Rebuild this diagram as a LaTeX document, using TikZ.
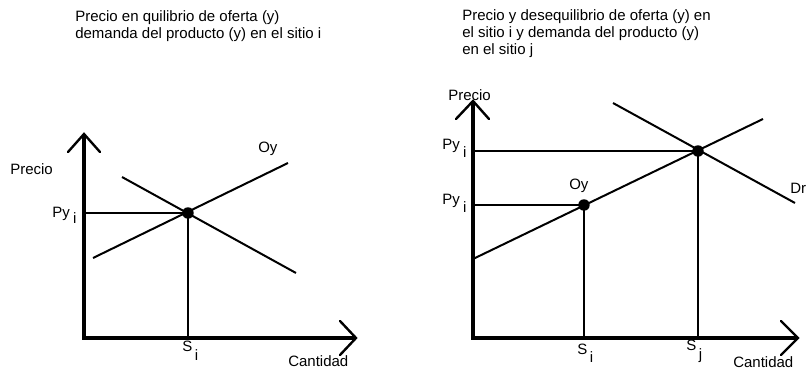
\documentclass[tikz,border=0pt]{standalone}
\usepackage{fontspec}
\setmainfont{Liberation Sans}
\begin{document}
\begin{tikzpicture}[x=0.75pt,y=-0.75pt,
  lbl/.style={font=\fontsize{11.25}{13.5}\selectfont,inner sep=0pt,anchor=base west},
  axisline/.style={line width=3.2pt},
  tipline/.style={line width=1.8pt,line cap=round},
  curve/.style={line width=1.5pt},
  guide/.style={line width=1.5pt},
  dot/.style={circle,fill=black,inner sep=0pt,minimum size=8.6pt}]
\useasboundingbox (0,0) rectangle (807,370);
% ---------- titles
\node[lbl] (t1a) at (75,22) {Precio en quilibrio de oferta (y)};
\node[lbl] (t1b) at (75,39) {demanda del producto (y) en el sitio i};
\node[lbl] (t2a) at (462,21) {Precio y desequilibrio de oferta (y) en};
\node[lbl] (t2b) at (462,38) {el sitio i y demanda del producto (y)};
\node[lbl] (t2c) at (462,55) {en el sitio j};
% ---------- left chart
\coordinate (LO) at (84,338);
\coordinate (LY) at (84,134);
\coordinate (LX) at (356,338);
\coordinate (LYa) at (68,152);
\coordinate (LYb) at (100,152);
\coordinate (LXa) at (340,321);
\coordinate (LXb) at (340,355);
\draw[axisline] (LY) -- (LO) -- (LX);
\draw[tipline] (LYa) -- (LY) -- (LYb);
\draw[tipline] (LXa) -- (LX) -- (LXb);
\coordinate (LS1) at (93,258);
\coordinate (LS2) at (288,163);
\coordinate (LD1) at (122,177);
\coordinate (LD2) at (296,273);
\draw[curve] (LS1) -- (LS2);
\draw[curve] (LD1) -- (LD2);
\node[dot] (LE) at (188,213) {};
\draw[guide] (LE.center) -- (LE.center -| LO);
\draw[guide] (LE.center) -- (LE.center |- LO);
\node[lbl] (Lprecio) at (10,175) {Precio};
\node[lbl] (Loy) at (258,153) {Oy};
\node[lbl] (Lpy) at (52,218) {Py\hspace{2.5pt}\raisebox{-3.9pt}{i}};
\node[lbl] (Lsi) at (182,352) {S\hspace{2pt}\raisebox{-6pt}{i}};
\node[lbl] (Lcant) at (288,367) {Cantidad};
% ---------- right chart
\coordinate (RO) at (473,338);
\coordinate (RY) at (473,101);
\coordinate (RX) at (798,338);
\coordinate (RYa) at (456,119);
\coordinate (RYb) at (489,119);
\coordinate (RXa) at (781,321);
\coordinate (RXb) at (781,355);
\draw[axisline] (RY) -- (RO) -- (RX);
\draw[tipline] (RYa) -- (RY) -- (RYb);
\draw[tipline] (RXa) -- (RX) -- (RXb);
\coordinate (RS1) at (473,259);
\coordinate (RS2) at (763,119);
\coordinate (RD1) at (613,103);
\coordinate (RD2) at (795,203);
\draw[curve] (RS1) -- (RS2);
\draw[curve] (RD1) -- (RD2);
\node[dot] (RE) at (698,151) {};
\node[dot] (RF) at (584,205) {};
\draw[guide] (RE.center) -- (RE.center -| RO);
\draw[guide] (RE.center) -- (RE.center |- RO);
\draw[guide] (RF.center) -- (RF.center -| RO);
\draw[guide] (RF.center) -- (RF.center |- RO);
\node[lbl] (Rprecio) at (448,101) {Precio};
\node[lbl] (Rpy1) at (442,150) {Py\hspace{2.5pt}\raisebox{-5.5pt}{i}};
\node[lbl] (Rpy2) at (442,205) {Py\hspace{2.5pt}\raisebox{-5.5pt}{i}};
\node[lbl] (Roy) at (569,190) {Oy};
\node[lbl] (Rdr) at (790,194) {Dr};
\node[lbl] (Rsi) at (577,354) {S\hspace{2pt}\raisebox{-6pt}{i}};
\node[lbl] (Rsj) at (686,351) {S\hspace{2pt}\raisebox{-6pt}{j}};
\node[lbl] (Rcant) at (733,368) {Cantidad};
\end{tikzpicture}
\end{document}
